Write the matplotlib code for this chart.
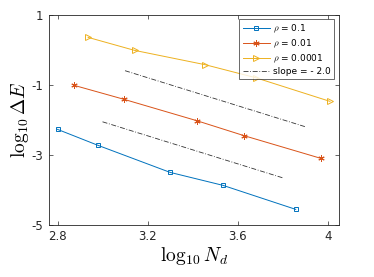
import matplotlib
matplotlib.use("Agg")
import matplotlib.pyplot as plt
import numpy as np

plt.rcParams["mathtext.fontset"] = "cm"

x_rho1 = [2.80, 2.98, 3.30, 3.535, 3.858]
y_rho1 = [-2.276, -2.733, -3.505, -3.876, -4.562]
x_rho2 = [2.874, 3.096, 3.419, 3.629, 3.970]
y_rho2 = [-1.019, -1.419, -2.029, -2.457, -3.105]
x_rho3 = [2.936, 3.142, 3.456, 3.680, 4.010]
y_rho3 = [0.352, -0.019, -0.429, -0.80, -1.476]
x_slope_up = [3.1, 3.9]
y_slope_up = [-0.6, -2.2]
x_slope_lo = [3.0, 3.8]
y_slope_lo = [-2.06, -3.66]

xticks = [2.8, 3.2, 3.6, 4.0]
xticklabels = ["2.8", "3.2", "3.6", "4"]
yticks = [1, -1, -3, -5]
yticklabels = ["1", "-1", "-3", "-5"]

c_blue = "#0072BD"
c_red = "#D95319"
c_yel = "#EDB120"

fig = plt.figure(figsize=(3.74, 2.77), dpi=100)
ax = fig.add_axes([48.5/374, 1 - 224.7/277, (338.7-48.5)/374, (224.7-14.7)/277])

ax.plot(x_rho1, y_rho1, color=c_blue, lw=0.7, marker="s", ms=3.5, mfc="none", mew=0.7, label=r"$\rho$ = 0.1")
ax.plot(x_rho2, y_rho2, color=c_red, lw=0.7, marker=(6, 2, 0), ms=4.5, mew=0.7, label=r"$\rho$ = 0.01")
ax.plot(x_rho3, y_rho3, color=c_yel, lw=0.7, marker=">", ms=4.5, mfc="none", mew=0.7, label=r"$\rho$ = 0.0001")
ax.plot(x_slope_up, y_slope_up, color="#333333", lw=0.6, ls=(0, (6, 2, 1, 2)), label="slope = - 2.0")
ax.plot(x_slope_lo, y_slope_lo, color="#333333", lw=0.6, ls=(0, (6, 2, 1, 2)))

ax.set_xlim(2.76, 4.049)
ax.set_ylim(-5, 1)
ax.set_xticks(xticks)
ax.set_xticklabels(xticklabels)
ax.set_yticks(yticks)
ax.set_yticklabels(yticklabels)
ax.tick_params(direction="in", top=True, right=True, labelsize=8.5, length=3, width=0.5, colors="#262626", pad=4)
for s in ax.spines.values():
    s.set_linewidth(0.6)
    s.set_color("#262626")

ax.set_xlabel(r"$\log_{10} N_d$", fontsize=14, labelpad=1)
ax.set_ylabel(r"$\log_{10} \Delta E$", fontsize=14, labelpad=0)

leg = ax.legend(loc="upper right", fontsize=6.5, frameon=True, fancybox=False, edgecolor="#262626",
                handlelength=3.0, handletextpad=0.4, borderpad=0.35, labelspacing=0.3,
                borderaxespad=0.5)
leg.get_frame().set_linewidth(0.6)

fig.savefig("out.png", dpi=100)
